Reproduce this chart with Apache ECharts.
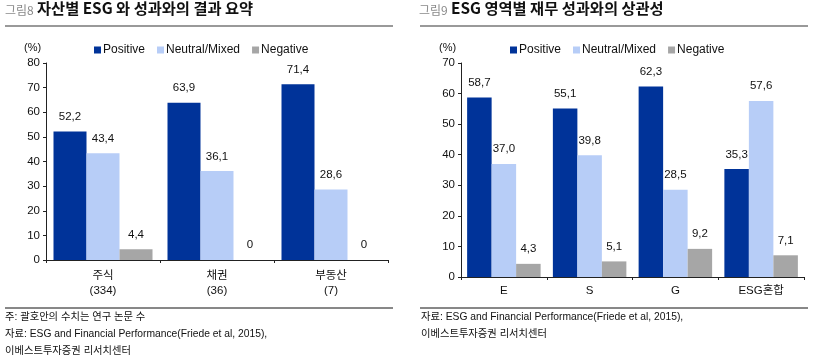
<!DOCTYPE html>
<html><head><meta charset="utf-8">
<script src="https://cdn.jsdelivr.net/npm/echarts@6/dist/echarts.min.js"></script>
<style>html,body{margin:0;padding:0;background:#fff}#c{width:813px;height:363px}</style>
</head><body><div id="c"></div>
<script>
// Figure 8 data
const cats1 = ['주식\n(334)', '채권\n(36)', '부동산\n(7)'];
const pos1 = [52.2, 63.9, 71.4];
const neu1 = [43.4, 36.1, 28.6];
const neg1 = [4.4, 0, 0];
const yTicks1 = [0, 10, 20, 30, 40, 50, 60, 70, 80];
// Figure 9 data
const cats2 = ['E', 'S', 'G', 'ESG혼합'];
const pos2 = [58.7, 55.1, 62.3, 35.3];
const neu2 = [37.0, 39.8, 28.5, 57.6];
const neg2 = [4.3, 5.1, 9.2, 7.1];
const yTicks2 = [0, 10, 20, 30, 40, 50, 60, 70];

const seriesNames = ['Positive', 'Neutral/Mixed', 'Negative'];
const colors = ['#003399', '#B7CDF7', '#A6A6A6'];
const FONT = '"Liberation Sans", Arial, "Noto Sans CJK KR", sans-serif';
const KFONT = '"Noto Sans CJK KR", "Liberation Sans", sans-serif';

const chart = echarts.init(document.getElementById('c'), null, {renderer: 'canvas'});

function mkSeries(data, idx, axisIdx, width) {
  return {
    type: 'bar', name: seriesNames[idx], data: data,
    xAxisIndex: axisIdx, yAxisIndex: axisIdx,
    barWidth: width, barGap: '0%',
    itemStyle: {color: colors[idx]},
    label: {show: true, position: 'top', distance: 9, fontFamily: FONT, fontSize: 11.5, color: '#111',
      formatter: p => { let v = p.value; let s = (axisIdx === 1 || v % 1 !== 0) ? v.toFixed(1) : String(v); return s.replace('.', ','); }},
    animation: false
  };
}

function xAxis(cats, gi, margin) {
  return {type: 'category', gridIndex: gi, data: cats,
    axisLine: {lineStyle: {color: '#222', width: 1}},
    axisTick: {show: true, length: 3, lineStyle: {color: '#222'}},
    axisLabel: {fontFamily: FONT, fontSize: 11.5, color: '#111', margin: margin, lineHeight: 15}};
}
function yAxis(ticks, gi) {
  return {type: 'value', gridIndex: gi, min: ticks[0], max: ticks[ticks.length - 1], interval: ticks[1] - ticks[0],
    axisLine: {show: true, lineStyle: {color: '#222'}},
    axisTick: {show: true, length: 3, lineStyle: {color: '#222'}},
    splitLine: {show: false},
    axisLabel: {fontFamily: FONT, fontSize: 11.5, color: '#111', margin: 6}};
}
function legend(left) {
  return {data: seriesNames, left: left, top: 39, itemWidth: 7, itemHeight: 7, itemGap: 12, icon: 'rect',
    textStyle: {fontFamily: FONT, fontSize: 12, color: '#111', padding: [0, 0, 0, -3]}};
}
function title(x, num, txt) {
  return [
    {type: 'text', left: x, top: 4, style: {text: num, font: '12px ' + KFONT, fill: '#8a8a8a'}},
    {type: 'text', left: x + 32, top: 1, style: {text: txt, font: 'bold 15.3px ' + KFONT, fill: '#111'}}
  ];
}
function rule(x1, x2, y, color, w) {
  return {type: 'line', shape: {x1: x1, y1: y, x2: x2, y2: y}, style: {stroke: color, lineWidth: w}};
}
function note(x, y, txt) {
  return {type: 'text', left: x, top: y, style: {text: txt, font: '10.3px ' + FONT, fill: '#111'}};
}

chart.setOption({
  animation: false,
  grid: [
    {left: 46, right: 425, top: 63, bottom: 103},
    {left: 461, right: 9, top: 63, bottom: 86}
  ],
  legend: [legend(89), legend(505)],
  xAxis: [xAxis(cats1, 0, 8), xAxis(cats2, 1, 6)],
  yAxis: [yAxis(yTicks1, 0), yAxis(yTicks2, 1)],
  series: [
    mkSeries(pos1, 0, 0, 33), mkSeries(neu1, 1, 0, 33), mkSeries(neg1, 2, 0, 33),
    mkSeries(pos2, 0, 1, 24.5), mkSeries(neu2, 1, 1, 24.5), mkSeries(neg2, 2, 1, 24.5)
  ],
  graphic: [
    ...title(5, '그림8', '자산별 ESG 와 성과와의 결과 요약'),
    ...title(419, '그림9', 'ESG 영역별 재무 성과와의 상관성'),
    rule(5, 393, 26, '#999', 2),
    rule(420, 808, 26, '#999', 2),
    {type: 'text', left: 24, top: 42, style: {text: '(%)', font: '11px ' + FONT, fill: '#111'}},
    {type: 'text', left: 439, top: 42, style: {text: '(%)', font: '11px ' + FONT, fill: '#111'}},
    rule(5, 393, 308, '#111', 1),
    rule(420, 808, 308, '#111', 1),
    note(5, 312, '주: 괄호안의 수치는 연구 논문 수'),
    note(5, 329, '자료: ESG and Financial Performance(Friede et al, 2015),'),
    note(5, 346, '이베스트투자증권 리서치센터'),
    note(421, 312, '자료: ESG and Financial Performance(Friede et al, 2015),'),
    note(421, 329, '이베스트투자증권 리서치센터')
  ]
});
</script></body></html>
